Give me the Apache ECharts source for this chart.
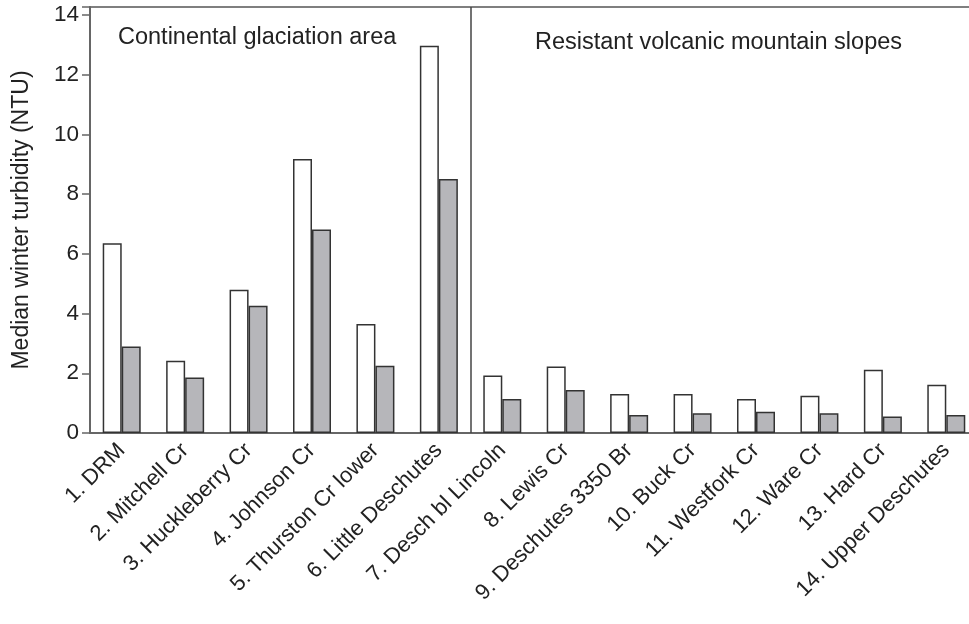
<!DOCTYPE html>
<html>
<head>
<meta charset="utf-8">
<script src="https://cdn.jsdelivr.net/npm/echarts@6/dist/echarts.min.js"></script>
<style>html,body{margin:0;padding:0;background:#fff;}#c{width:969px;height:624px;}</style>
</head>
<body>
<div id="c"></div>
<script>
const categories = ["1. DRM","2. Mitchell Cr","3. Huckleberry Cr","4. Johnson Cr","5. Thurston Cr lower","6. Little Deschutes","7. Desch bl Lincoln","8. Lewis Cr","9. Deschutes 3350 Br","10. Buck Cr","11. Westfork Cr","12. Ware Cr","13. Hard Cr","14. Upper Deschutes"];
const whiteValues = [6.36, 2.42, 4.8, 9.18, 3.65, 12.97, 1.93, 2.23, 1.31, 1.31, 1.14, 1.25, 2.12, 1.62];
const grayValues = [2.9, 1.86, 4.26, 6.82, 2.25, 8.51, 1.14, 1.44, 0.6, 0.66, 0.71, 0.66, 0.55, 0.6];
const yTicks = [0, 2, 4, 6, 8, 10, 12, 14];
const regionLabels = ["Continental glaciation area", "Resistant volcanic mountain slopes"];
const regionBoundary = 6; // number of sites in the first region

const font = '"Liberation Sans", Arial, Helvetica, sans-serif';
const textColor = '#222';
const chart = echarts.init(document.getElementById('c'), null, {renderer: 'canvas'});
chart.setOption({
  animation: false,
  backgroundColor: '#fff',
  grid: {left: 90, width: 888, top: 7, bottom: 191, outerBoundsMode: 'none', containLabel: false,
    show: true, borderColor: '#555', borderWidth: 1.5, backgroundColor: 'transparent'},
  xAxis: [{
    type: 'category',
    data: categories,
    axisLine: {lineStyle: {color: '#666', width: 2}},
    axisTick: {alignWithLabel: true, length: 10, lineStyle: {color: '#222', width: 1.5}},
    axisLabel: {rotate: 45, interval: 0, margin: 14, color: textColor, fontSize: 22, fontFamily: font},
    splitLine: {show: false}
  }, {
    type: 'value',
    min: 0,
    max: categories.length,
    show: false
  }],
  yAxis: {
    type: 'value',
    min: 0,
    max: 14.27,
    interval: 2,
    name: 'Median winter turbidity (NTU)',
    nameLocation: 'middle',
    nameGap: 57,
    nameTextStyle: {color: textColor, fontSize: 23, fontFamily: font},
    axisLine: {show: true, lineStyle: {color: '#666', width: 2}},
    axisTick: {show: true, length: 8, lineStyle: {color: '#666', width: 1.5}},
    axisLabel: {margin: 11, color: textColor, fontSize: 22.5, fontFamily: font,
      formatter: function (v) { return yTicks.indexOf(v) >= 0 ? String(v) : ''; }},
    splitLine: {show: false}
  },
  graphic: [
    {type: 'text', left: 118, top: 26, style: {text: regionLabels[0], fill: textColor, font: '23.5px ' + font}},
    {type: 'text', left: 535, top: 31, style: {text: regionLabels[1], fill: textColor, font: '23.5px ' + font}}
  ],
  series: [
    {type: 'bar', data: whiteValues, barWidth: 19, barGap: '0%',
     itemStyle: {color: '#ffffff', borderColor: '#333', borderWidth: 1.5}},
    {type: 'bar', data: grayValues, barWidth: 19, barGap: '0%',
     itemStyle: {color: '#b6b6ba', borderColor: '#333', borderWidth: 1.5}},
    {type: 'scatter', xAxisIndex: 1, data: [], silent: true,
     markLine: {symbol: ['none', 'none'], silent: true, label: {show: false},
       lineStyle: {color: '#444', width: 1.5, type: 'solid'},
       data: [{xAxis: regionBoundary}]}}
  ]
});
</script>
</body>
</html>
